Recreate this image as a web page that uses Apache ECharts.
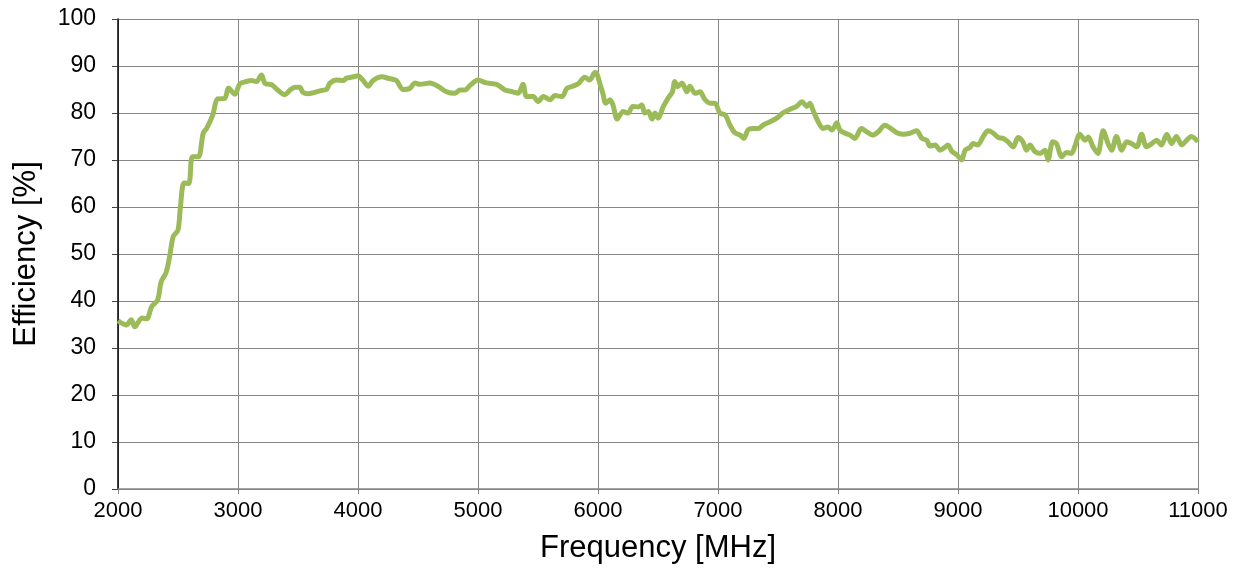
<!DOCTYPE html>
<html>
<head>
<meta charset="utf-8">
<script src="https://cdn.jsdelivr.net/npm/echarts@6/dist/echarts.min.js"></script>
<style>html,body{margin:0;padding:0;background:#fff;}#c{width:1254px;height:573px;}</style>
</head>
<body>
<div id="c"></div>
<script>
const freq = [2000,2070,2110,2140,2200,2240,2280,2330,2360,2400,2430,2460,2500,2520,2550,2590,2620,2670,2710,2740,2790,2830,2890,2920,2975,3015,3070,3110,3155,3195,3225,3280,3330,3390,3430,3475,3515,3540,3585,3640,3700,3740,3765,3820,3875,3905,3960,4000,4040,4085,4125,4200,4250,4320,4375,4430,4475,4515,4600,4665,4740,4810,4850,4890,4935,5000,5070,5155,5225,5290,5335,5375,5405,5460,5500,5545,5600,5640,5700,5740,5790,5835,5890,5930,5975,5990,6015,6040,6065,6100,6125,6160,6210,6250,6290,6335,6365,6390,6420,6450,6475,6500,6545,6585,6620,6640,6665,6700,6740,6765,6810,6850,6890,6935,6975,7015,7060,7100,7140,7185,7215,7250,7290,7335,7375,7430,7490,7540,7600,7655,7700,7740,7765,7790,7835,7875,7915,7950,7990,8015,8060,8100,8140,8195,8240,8290,8335,8390,8430,8490,8540,8600,8655,8700,8740,8765,8810,8850,8890,8915,8950,8990,9030,9060,9100,9125,9165,9210,9250,9290,9335,9375,9415,9460,9500,9540,9570,9600,9640,9685,9725,9750,9790,9820,9865,9905,9945,9975,10015,10060,10085,10125,10165,10210,10250,10280,10320,10365,10405,10445,10490,10530,10570,10615,10655,10695,10740,10780,10820,10865,10905,10945,11000];
const efficiency = [35.8,34.9,36.0,34.5,36.4,36.2,38.8,40.2,44.1,46.0,49.4,53.7,55.1,60.0,65.1,65.0,70.7,70.7,75.7,76.8,79.6,83.0,83.1,85.3,84.0,86.2,86.7,86.9,86.7,88.1,86.3,86.0,84.9,83.9,84.8,85.5,85.5,84.4,84.1,84.4,84.8,85.1,86.3,87.0,86.9,87.4,87.7,87.9,87.0,85.7,86.9,87.7,87.4,86.9,85.0,85.2,86.4,86.1,86.4,85.7,84.5,84.2,84.9,84.9,85.9,87.0,86.4,86.1,84.9,84.5,84.2,86.1,83.5,83.5,82.4,83.5,82.8,83.7,83.5,85.2,85.7,86.2,87.6,87.0,88.6,88.4,86.3,84.2,82.1,82.8,81.7,78.7,80.3,80.0,81.4,81.3,81.7,80.0,80.3,78.7,80.0,78.9,81.4,83.2,84.5,86.7,85.6,86.4,84.5,85.7,84.2,84.5,82.9,82.1,82.1,80.0,79.6,77.4,75.8,75.3,74.6,76.4,76.7,76.7,77.4,78.1,78.9,80.0,80.8,81.4,82.4,81.4,82.1,80.7,78.1,76.7,77.0,76.4,77.9,76.4,75.7,75.3,74.6,76.7,76.0,75.3,76.0,77.4,76.9,75.8,75.5,75.7,76.2,74.6,74.2,73.0,73.2,72.1,72.7,73.2,71.8,71.1,70.0,72.1,72.7,73.5,73.2,75.0,76.2,75.8,74.8,74.6,73.9,72.8,74.8,73.9,72.1,73.2,71.8,71.4,72.1,70.0,73.9,73.5,70.7,71.6,71.4,73.0,75.5,74.2,74.9,72.8,71.4,76.2,73.5,72.1,75.0,72.1,73.9,73.5,72.8,75.5,72.8,73.5,74.2,73.2,75.5,73.5,75.0,73.2,74.2,75.0,73.9];
const xTitle = 'Frequency [MHz]';
const yTitle = 'Efficiency [%]';

const data = freq.map((f, i) => [f, efficiency[i]]);
const chart = echarts.init(document.getElementById('c'));
const font = 'Liberation Sans, Arial, sans-serif';
chart.setOption({
  animation: false,
  backgroundColor: '#ffffff',
  grid: { left: 118, right: 56, top: 19, bottom: 84, containLabel: false },
  xAxis: {
    type: 'value', min: 2000, max: 11000, interval: 1000,
    name: xTitle, nameLocation: 'middle', nameGap: 44,
    nameTextStyle: { fontFamily: font, fontSize: 31, color: '#000' },
    axisLine: { show: true, lineStyle: { color: '#868686', width: 1.5 } },
    axisTick: { show: true, length: 5, lineStyle: { color: '#868686' } },
    axisLabel: { fontFamily: font, fontSize: 22, color: '#000', margin: 11, formatter: v => String(v) },
    splitLine: { show: true, lineStyle: { color: '#868686', width: 1 } }
  },
  yAxis: {
    type: 'value', min: 0, max: 100, interval: 10,
    name: yTitle, nameLocation: 'middle', nameGap: 76,
    nameTextStyle: { fontFamily: font, fontSize: 31, color: '#000' },
    axisLine: { show: true, lineStyle: { color: '#000', width: 1.5 } },
    axisTick: { show: true, length: 6, lineStyle: { color: '#404040' } },
    axisLabel: { fontFamily: font, fontSize: 23, color: '#000', margin: 22, formatter: v => String(v) },
    splitLine: { show: true, lineStyle: { color: '#868686', width: 1 } }
  },
  series: [{
    type: 'line', data: data, showSymbol: false, smooth: 0.3,
    lineStyle: { color: '#9BBB59', width: 5 },
    itemStyle: { color: '#9BBB59' }
  }]
});
</script>
</body>
</html>
